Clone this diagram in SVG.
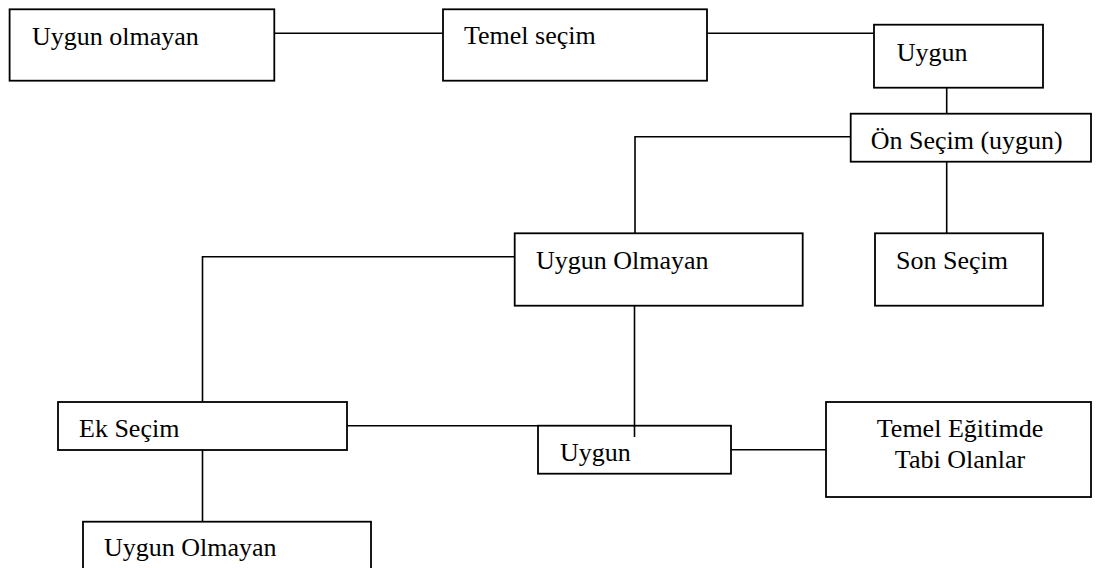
<svg xmlns="http://www.w3.org/2000/svg" width="1113" height="568" viewBox="0 0 1113 568">
<style>
.box{fill:#fff;stroke:#000;stroke-width:1.8}
.ln{fill:none;stroke:#000;stroke-width:1.6}
text{font-family:'Liberation Serif','Times New Roman',Tinos,'DejaVu Serif',serif;font-size:26px;fill:#000}
</style>
<rect width="1113" height="568" fill="#fff"/>
<g id="connectors">
<line class="ln" x1="274" y1="33.3" x2="443" y2="33.3"/>
<line class="ln" x1="707" y1="33.3" x2="874" y2="33.3"/>
<line class="ln" x1="946.7" y1="80.7" x2="946.7" y2="113.7"/>
<polyline class="ln" points="850.7,136.7 635,136.7 635,233.3"/>
<line class="ln" x1="946.7" y1="161.7" x2="946.7" y2="233.3"/>
<polyline class="ln" points="514.7,256.7 202.5,256.7 202.5,402"/>
<line class="ln" x1="347" y1="425.7" x2="538" y2="425.7"/>
<line class="ln" x1="731" y1="449.7" x2="826" y2="449.7"/>
<line class="ln" x1="202.5" y1="450" x2="202.5" y2="521.7"/>
</g>
<g id="n1"><rect class="box" x="9.6" y="9.3" width="264.7" height="71.4"/><text x="32" y="45">Uygun olmayan</text></g>
<g id="n2"><rect class="box" x="443" y="9.3" width="264" height="71.4"/><text x="464" y="44.3">Temel seçim</text></g>
<g id="n3"><rect class="box" x="874" y="24.7" width="169" height="63"/><text x="896.7" y="61">Uygun</text></g>
<g id="n4"><rect class="box" x="850.7" y="113.7" width="240.3" height="48"/><text x="870.7" y="149">Ön Seçim (uygun)</text></g>
<g id="n5"><rect class="box" x="514.7" y="233.3" width="288" height="72.4"/><text x="536" y="269">Uygun Olmayan</text></g>
<g id="n6"><rect class="box" x="875" y="233.3" width="168" height="72.4"/><text x="896" y="269">Son Seçim</text></g>
<g id="n7"><rect class="box" x="58" y="402" width="289" height="48"/><text x="79" y="437">Ek Seçim</text></g>
<g id="n8"><rect class="box" x="538" y="425.7" width="193" height="48"/><text x="560" y="461">Uygun</text></g>
<line class="ln" x1="634.5" y1="305.7" x2="634.5" y2="437"/>
<g id="n9"><rect class="box" x="826" y="402" width="265" height="95"/><text x="960" y="436.7" text-anchor="middle">Temel Eğitimde</text><text x="960" y="468.3" text-anchor="middle">Tabi Olanlar</text></g>
<g id="n10"><rect class="box" x="83" y="521.7" width="288" height="60"/><text x="104" y="555.7">Uygun Olmayan</text></g>
</svg>
